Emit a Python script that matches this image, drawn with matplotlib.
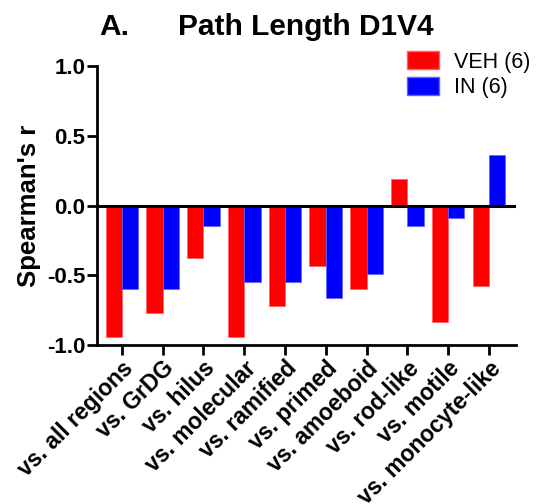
import matplotlib
matplotlib.use("Agg")
import matplotlib.pyplot as plt
import numpy as np
from matplotlib.patches import Patch

categories = ["vs. all regions", "vs. GrDG", "vs. hilus", "vs. molecular", "vs. ramified",
              "vs. primed", "vs. amoeboid", "vs. rod-like", "vs. motile", "vs. monocyte-like"]
veh = [-0.944, -0.774, -0.373, -0.944, -0.717, -0.432, -0.60, 0.19, -0.834, -0.58]
inn = [-0.60, -0.60, -0.146, -0.545, -0.545, -0.66, -0.49, -0.146, -0.088, 0.363]
series_labels = ["VEH (6)", "IN (6)"]
yticks = [-1.0, -0.5, 0.0, 0.5, 1.0]

plt.rcParams['font.family'] = ['Liberation Sans', 'DejaVu Sans']

fig = plt.figure(figsize=(5.39, 5.04), dpi=100)
ax = fig.add_axes([0.18, 0.3155, 0.777, 0.5535])

x = np.arange(len(categories))
w = 0.4
ax.bar(x - w/2, veh, w, color='#ff0000', edgecolor='#ff6060', linewidth=0.5)
ax.bar(x + w/2, inn, w, color='#0000ff', edgecolor='#6060ff', linewidth=0.5)
ax.axhline(0, color='black', linewidth=2.2, zorder=3)

ax.set_xlim(-0.61, 9.66)
ax.set_ylim(-1.0, 1.0)
ax.set_yticks(yticks)
ax.set_yticklabels([f"{v:.1f}" for v in yticks], fontsize=16, fontweight='bold')
ax.set_xticks(x)
ax.set_xticklabels(categories, rotation=45, ha='right', rotation_mode='anchor',
                   fontsize=16.5, fontweight='bold')
for s in ['top', 'right']:
    ax.spines[s].set_visible(False)
for s in ['left', 'bottom']:
    ax.spines[s].set_linewidth(2)
ax.tick_params(axis='both', direction='out', length=7, width=2, pad=1.5)
ax.set_ylabel("Spearman's r", fontsize=18.5, fontweight='bold', labelpad=4)

fig.text(0.185, 0.93, "A.", fontsize=21.5, fontweight='bold', ha='left', va='baseline')
fig.text(0.33, 0.93, "Path Length D1V4", fontsize=21.5, fontweight='bold', ha='left', va='baseline')

handles = [Patch(facecolor='#ff0000', edgecolor='#ff6060'), Patch(facecolor='#0000ff', edgecolor='#6060ff')]
fig.legend(handles, series_labels, loc='upper right', bbox_to_anchor=(1.0, 0.915),
           frameon=False, fontsize=15.5, handlelength=1.5, handleheight=0.9,
           handletextpad=0.7, labelspacing=0.2, borderaxespad=0.0)

fig.savefig("out.png", dpi=100)
